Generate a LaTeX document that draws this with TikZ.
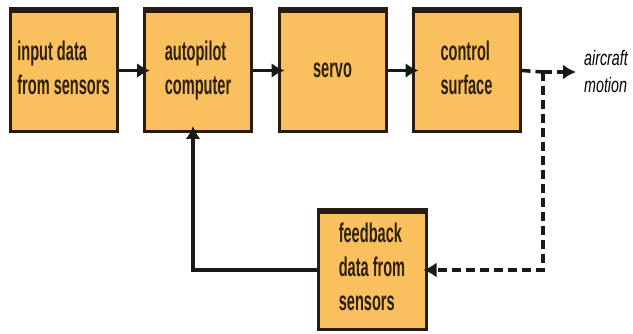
\documentclass[tikz,border=0pt]{standalone}
\usepackage{fontspec}
\setmainfont{Liberation Sans}
\usetikzlibrary{arrows.meta}
\definecolor{boxfill}{RGB}{250,192,94}
\definecolor{boxline}{RGB}{40,28,12}
\definecolor{textcol}{RGB}{45,32,10}
\definecolor{linecol}{RGB}{25,25,25}
\newcommand{\bxtext}[1]{\scalebox{0.54}[1]{\fontsize{27}{34}\selectfont\bfseries\begin{tabular}{@{}l@{}}#1\end{tabular}}}
\newcommand{\mottext}[1]{\scalebox{0.68}[1]{\fontsize{21}{27}\selectfont\itshape\begin{tabular}{@{}l@{}}#1\end{tabular}}}
\begin{document}
\begin{tikzpicture}[x=1pt,y=-1pt,
  blk/.style={draw=boxline, fill=boxfill, line width=3pt, minimum width=107pt,
    minimum height=122pt, inner sep=0pt, text=textcol},
  topedge/.style={draw=boxline, line width=6pt},
  link/.style={line width=3.5pt, draw=linecol, -{Latex[length=13pt,width=15pt]}, shorten >=-7pt},
  dlink/.style={line width=3.5pt, draw=linecol, dash pattern=on 9pt off 5pt},
  dtip/.style={-{Latex[length=13pt,width=15pt]}, shorten >=-4pt}
]
\useasboundingbox (0,0) rectangle (633,334);
\fill[white] (0,0) rectangle (633,334);

\node[blk] (b1) at (63.5,70.5) {\bxtext{input data\\from sensors}};
\node[blk] (b2) at (198,70.5) {\bxtext{autopilot\\computer}};
\node[blk] (b3) at (332.5,70.5) {\bxtext{servo}};
\node[blk] (b4) at (466.5,70.5) {\bxtext{control\\surface}};
\node[blk, minimum width=108pt, minimum height=120pt] (fb) at (372,270) {\bxtext{feedback\\data from\\sensors}};
\node[inner sep=0pt, text=black] (am) at (606,74) {\mottext{aircraft\\motion}};

\foreach \n in {b1,b2,b3,b4,fb}
  \draw[topedge] ([yshift=-2.5pt]\n.north west) -- ([yshift=-2.5pt]\n.north east);

\coordinate (split) at (543,72);
\coordinate (amtip) at (576,72);

\draw[link] (b1) -- (b2);
\draw[link] (b2) -- (b3);
\draw[link] (b3) -- (b4);
\draw[dlink] (b4.east) -- (split);
\draw[dlink, dtip, shorten >=0pt] (split) -- (amtip);
\draw[dlink, dtip] (split) |- (fb.east);
\draw[link] (fb.west) -| ([xshift=-5pt]b2.south);
\end{tikzpicture}
\end{document}
